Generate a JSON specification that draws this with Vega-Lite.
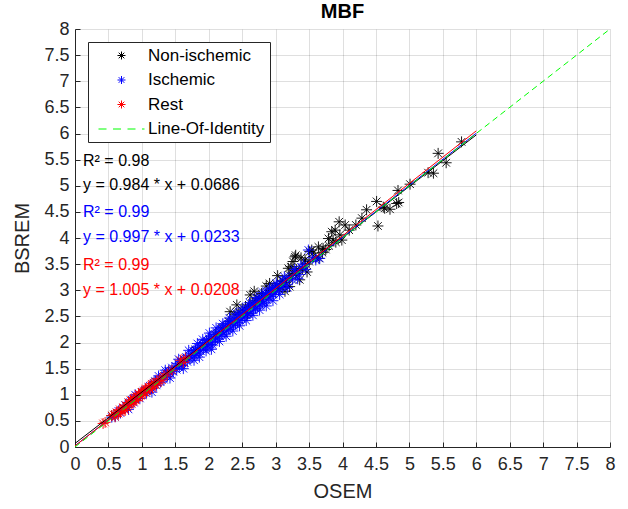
{
  "$schema": "https://vega.github.io/schema/vega-lite/v6.json",
  "width": 535,
  "height": 418,
  "autosize": {"type": "none"},
  "padding": {"left": 75, "top": 29, "right": 18, "bottom": 62},
  "background": "white",
  "title": {"text": "MBF", "fontSize": 20, "fontWeight": "bold", "font": "Liberation Sans", "color": "#000000", "offset": -2},
  "config": {
    "view": {"stroke": null},
    "font": "Liberation Sans",
    "axis": {
      "grid": true, "gridColor": "#262626", "gridOpacity": 0.15,
      "domainColor": "#262626", "tickColor": "#262626", "labelColor": "#262626", "titleColor": "#262626",
      "labelFontSize": 18, "titleFontSize": 20, "titleFontWeight": "normal",
      "labelFont": "Liberation Sans", "titleFont": "Liberation Sans", "tickSize": -5
    }
  },
  "datasets": {
    "pts": [
      {"g":"Non-ischemic","x":0.55,"y":0.6},{"g":"Non-ischemic","x":0.8,"y":0.85},{"g":"Non-ischemic","x":1.0,"y":1.05},{"g":"Non-ischemic","x":1.2,"y":1.25},{"g":"Non-ischemic","x":1.4,"y":1.45},{"g":"Non-ischemic","x":1.6,"y":1.62},{"g":"Non-ischemic","x":1.8,"y":1.85},{"g":"Non-ischemic","x":2.0,"y":2.05},{"g":"Non-ischemic","x":2.1,"y":2.15},{"g":"Non-ischemic","x":2.2,"y":2.28},{"g":"Non-ischemic","x":2.3,"y":2.4},{"g":"Non-ischemic","x":2.32,"y":2.59},{"g":"Non-ischemic","x":2.39,"y":2.53},{"g":"Non-ischemic","x":2.45,"y":2.58},{"g":"Non-ischemic","x":2.5,"y":2.62},{"g":"Non-ischemic","x":2.55,"y":2.68},{"g":"Non-ischemic","x":2.6,"y":2.72},{"g":"Non-ischemic","x":2.62,"y":2.91},{"g":"Non-ischemic","x":2.65,"y":2.75},{"g":"Non-ischemic","x":2.7,"y":2.8},{"g":"Non-ischemic","x":2.72,"y":2.85},{"g":"Non-ischemic","x":2.75,"y":2.83},{"g":"Non-ischemic","x":2.79,"y":2.94},{"g":"Non-ischemic","x":2.8,"y":2.88},{"g":"Non-ischemic","x":2.85,"y":2.92},{"g":"Non-ischemic","x":2.9,"y":2.95},{"g":"Non-ischemic","x":2.91,"y":3.13},{"g":"Non-ischemic","x":2.95,"y":2.98},{"g":"Non-ischemic","x":2.96,"y":3.0},{"g":"Non-ischemic","x":3.0,"y":3.05},{"g":"Non-ischemic","x":3.02,"y":3.1},{"g":"Non-ischemic","x":3.05,"y":3.02},{"g":"Non-ischemic","x":3.08,"y":3.12},{"g":"Non-ischemic","x":3.11,"y":3.1},{"g":"Non-ischemic","x":3.1,"y":3.18},{"g":"Non-ischemic","x":3.15,"y":3.15},{"g":"Non-ischemic","x":3.19,"y":3.42},{"g":"Non-ischemic","x":3.2,"y":3.22},{"g":"Non-ischemic","x":3.21,"y":3.29},{"g":"Non-ischemic","x":3.21,"y":3.07},{"g":"Non-ischemic","x":3.23,"y":3.45},{"g":"Non-ischemic","x":3.25,"y":3.28},{"g":"Non-ischemic","x":3.29,"y":3.64},{"g":"Non-ischemic","x":3.3,"y":3.67},{"g":"Non-ischemic","x":3.31,"y":3.39},{"g":"Non-ischemic","x":3.3,"y":3.32},{"g":"Non-ischemic","x":3.35,"y":3.38},{"g":"Non-ischemic","x":3.36,"y":3.2},{"g":"Non-ischemic","x":3.4,"y":3.42},{"g":"Non-ischemic","x":3.44,"y":3.58},{"g":"Non-ischemic","x":3.45,"y":3.5},{"g":"Non-ischemic","x":3.5,"y":3.55},{"g":"Non-ischemic","x":3.51,"y":3.74},{"g":"Non-ischemic","x":3.54,"y":3.77},{"g":"Non-ischemic","x":3.56,"y":3.71},{"g":"Non-ischemic","x":3.6,"y":3.62},{"g":"Non-ischemic","x":3.64,"y":3.83},{"g":"Non-ischemic","x":3.65,"y":3.61},{"g":"Non-ischemic","x":3.7,"y":3.72},{"g":"Non-ischemic","x":3.71,"y":3.8},{"g":"Non-ischemic","x":3.75,"y":3.78},{"g":"Non-ischemic","x":3.79,"y":3.99},{"g":"Non-ischemic","x":3.8,"y":3.85},{"g":"Non-ischemic","x":3.84,"y":4.12},{"g":"Non-ischemic","x":3.86,"y":3.96},{"g":"Non-ischemic","x":3.89,"y":4.15},{"g":"Non-ischemic","x":3.9,"y":3.92},{"g":"Non-ischemic","x":3.95,"y":4.31},{"g":"Non-ischemic","x":3.96,"y":4.06},{"g":"Non-ischemic","x":3.99,"y":3.96},{"g":"Non-ischemic","x":4.04,"y":4.25},{"g":"Non-ischemic","x":4.1,"y":4.15},{"g":"Non-ischemic","x":4.2,"y":4.25},{"g":"Non-ischemic","x":4.29,"y":4.38},{"g":"Non-ischemic","x":4.36,"y":4.54},{"g":"Non-ischemic","x":4.51,"y":4.7},{"g":"Non-ischemic","x":4.53,"y":4.23},{"g":"Non-ischemic","x":4.61,"y":4.59},{"g":"Non-ischemic","x":4.63,"y":4.57},{"g":"Non-ischemic","x":4.71,"y":4.55},{"g":"Non-ischemic","x":4.81,"y":4.66},{"g":"Non-ischemic","x":4.83,"y":4.91},{"g":"Non-ischemic","x":4.84,"y":4.68},{"g":"Non-ischemic","x":5.01,"y":5.03},{"g":"Non-ischemic","x":5.28,"y":5.25},{"g":"Non-ischemic","x":5.36,"y":5.24},{"g":"Non-ischemic","x":5.43,"y":5.62},{"g":"Non-ischemic","x":5.55,"y":5.44},{"g":"Non-ischemic","x":5.78,"y":5.84},
      {"g":"Non-ischemic","x":2.42,"y":2.72},{"g":"Non-ischemic","x":2.58,"y":2.55},{"g":"Non-ischemic","x":2.68,"y":2.98},{"g":"Non-ischemic","x":2.86,"y":3.08},{"g":"Non-ischemic","x":3.03,"y":3.28},{"g":"Non-ischemic","x":3.14,"y":2.98},{"g":"Non-ischemic","x":3.26,"y":3.55},{"g":"Non-ischemic","x":3.38,"y":3.62},{"g":"Non-ischemic","x":3.47,"y":3.35},
      {"g":"Ischemic","x":0.55,"y":0.57},{"g":"Ischemic","x":0.6,"y":0.58},{"g":"Ischemic","x":0.63,"y":0.66},{"g":"Ischemic","x":0.65,"y":0.69},{"g":"Ischemic","x":0.68,"y":0.65},{"g":"Ischemic","x":0.72,"y":0.75},{"g":"Ischemic","x":0.75,"y":0.8},{"g":"Ischemic","x":0.78,"y":0.76},{"g":"Ischemic","x":0.8,"y":0.72},{"g":"Ischemic","x":0.82,"y":0.86},{"g":"Ischemic","x":0.85,"y":0.9},{"g":"Ischemic","x":0.88,"y":0.85},{"g":"Ischemic","x":0.9,"y":1.0},{"g":"Ischemic","x":0.92,"y":0.97},{"g":"Ischemic","x":0.95,"y":0.99},{"g":"Ischemic","x":0.97,"y":0.93},{"g":"Ischemic","x":1.02,"y":1.06},{"g":"Ischemic","x":1.05,"y":1.09},{"g":"Ischemic","x":1.07,"y":1.03},{"g":"Ischemic","x":1.1,"y":1.14},{"g":"Ischemic","x":1.12,"y":1.17},{"g":"Ischemic","x":1.15,"y":1.05},{"g":"Ischemic","x":1.15,"y":1.12},{"g":"Ischemic","x":1.18,"y":1.23},{"g":"Ischemic","x":1.2,"y":1.26},{"g":"Ischemic","x":1.22,"y":1.18},{"g":"Ischemic","x":1.25,"y":1.3},{"g":"Ischemic","x":1.25,"y":1.36},{"g":"Ischemic","x":1.28,"y":1.24},{"g":"Ischemic","x":1.3,"y":1.36},{"g":"Ischemic","x":1.33,"y":1.29},{"g":"Ischemic","x":1.35,"y":1.47},{"g":"Ischemic","x":1.36,"y":1.42},{"g":"Ischemic","x":1.38,"y":1.35},{"g":"Ischemic","x":1.4,"y":1.46},{"g":"Ischemic","x":1.42,"y":1.32},{"g":"Ischemic","x":1.43,"y":1.4},{"g":"Ischemic","x":1.45,"y":1.52},{"g":"Ischemic","x":1.47,"y":1.44},{"g":"Ischemic","x":1.5,"y":1.55},{"g":"Ischemic","x":1.52,"y":1.48},{"g":"Ischemic","x":1.54,"y":1.6},{"g":"Ischemic","x":1.55,"y":1.68},{"g":"Ischemic","x":1.56,"y":1.53},{"g":"Ischemic","x":1.58,"y":1.64},{"g":"Ischemic","x":1.6,"y":1.56},{"g":"Ischemic","x":1.62,"y":1.68},{"g":"Ischemic","x":1.62,"y":1.5},{"g":"Ischemic","x":1.64,"y":1.61},{"g":"Ischemic","x":1.66,"y":1.72},{"g":"Ischemic","x":1.68,"y":1.63},{"g":"Ischemic","x":1.7,"y":1.76},{"g":"Ischemic","x":1.7,"y":1.85},{"g":"Ischemic","x":1.72,"y":1.69},{"g":"Ischemic","x":1.74,"y":1.8},{"g":"Ischemic","x":1.75,"y":1.71},{"g":"Ischemic","x":1.77,"y":1.84},{"g":"Ischemic","x":1.78,"y":1.66},{"g":"Ischemic","x":1.79,"y":1.75},{"g":"Ischemic","x":1.8,"y":1.87},{"g":"Ischemic","x":1.82,"y":1.78},{"g":"Ischemic","x":1.83,"y":1.98},{"g":"Ischemic","x":1.84,"y":1.9},{"g":"Ischemic","x":1.85,"y":1.8},{"g":"Ischemic","x":1.86,"y":1.72},{"g":"Ischemic","x":1.87,"y":1.94},{"g":"Ischemic","x":1.88,"y":1.84},{"g":"Ischemic","x":1.9,"y":1.97},{"g":"Ischemic","x":1.91,"y":2.06},{"g":"Ischemic","x":1.92,"y":1.87},{"g":"Ischemic","x":1.93,"y":2.0},{"g":"Ischemic","x":1.95,"y":1.91},{"g":"Ischemic","x":1.96,"y":1.84},{"g":"Ischemic","x":1.97,"y":2.04},{"g":"Ischemic","x":1.98,"y":1.93},{"g":"Ischemic","x":2.0,"y":2.08},{"g":"Ischemic","x":2.01,"y":2.18},{"g":"Ischemic","x":2.02,"y":1.96},{"g":"Ischemic","x":2.03,"y":2.12},{"g":"Ischemic","x":2.05,"y":2.0},{"g":"Ischemic","x":2.04,"y":1.87},{"g":"Ischemic","x":2.06,"y":1.95},{"g":"Ischemic","x":2.08,"y":2.15},{"g":"Ischemic","x":2.1,"y":2.05},{"g":"Ischemic","x":2.11,"y":2.28},{"g":"Ischemic","x":2.12,"y":2.2},{"g":"Ischemic","x":2.13,"y":2.08},{"g":"Ischemic","x":2.15,"y":2.22},{"g":"Ischemic","x":2.16,"y":2.02},{"g":"Ischemic","x":2.17,"y":2.12},{"g":"Ischemic","x":2.18,"y":2.26},{"g":"Ischemic","x":2.2,"y":2.15},{"g":"Ischemic","x":2.21,"y":2.36},{"g":"Ischemic","x":2.22,"y":2.3},{"g":"Ischemic","x":2.23,"y":2.18},{"g":"Ischemic","x":2.25,"y":2.33},{"g":"Ischemic","x":2.26,"y":2.12},{"g":"Ischemic","x":2.27,"y":2.22},{"g":"Ischemic","x":2.28,"y":2.36},{"g":"Ischemic","x":2.3,"y":2.25},{"g":"Ischemic","x":2.31,"y":2.47},{"g":"Ischemic","x":2.32,"y":2.4},{"g":"Ischemic","x":2.33,"y":2.28},{"g":"Ischemic","x":2.35,"y":2.42},{"g":"Ischemic","x":2.36,"y":2.22},{"g":"Ischemic","x":2.37,"y":2.32},{"g":"Ischemic","x":2.38,"y":2.45},{"g":"Ischemic","x":2.4,"y":2.35},{"g":"Ischemic","x":2.41,"y":2.56},{"g":"Ischemic","x":2.42,"y":2.48},{"g":"Ischemic","x":2.43,"y":2.38},{"g":"Ischemic","x":2.45,"y":2.52},{"g":"Ischemic","x":2.46,"y":2.32},{"g":"Ischemic","x":2.47,"y":2.42},{"g":"Ischemic","x":2.48,"y":2.55},{"g":"Ischemic","x":2.5,"y":2.45},{"g":"Ischemic","x":2.51,"y":2.66},{"g":"Ischemic","x":2.52,"y":2.58},{"g":"Ischemic","x":2.53,"y":2.48},{"g":"Ischemic","x":2.55,"y":2.62},{"g":"Ischemic","x":2.56,"y":2.42},{"g":"Ischemic","x":2.57,"y":2.52},{"g":"Ischemic","x":2.58,"y":2.65},{"g":"Ischemic","x":2.6,"y":2.55},{"g":"Ischemic","x":2.61,"y":2.76},{"g":"Ischemic","x":2.62,"y":2.7},{"g":"Ischemic","x":2.63,"y":2.58},{"g":"Ischemic","x":2.65,"y":2.72},{"g":"Ischemic","x":2.66,"y":2.52},{"g":"Ischemic","x":2.67,"y":2.62},{"g":"Ischemic","x":2.68,"y":2.75},{"g":"Ischemic","x":2.7,"y":2.65},{"g":"Ischemic","x":2.71,"y":2.86},{"g":"Ischemic","x":2.72,"y":2.78},{"g":"Ischemic","x":2.73,"y":2.68},{"g":"Ischemic","x":2.75,"y":2.82},{"g":"Ischemic","x":2.76,"y":2.62},{"g":"Ischemic","x":2.77,"y":2.72},{"g":"Ischemic","x":2.78,"y":2.85},{"g":"Ischemic","x":2.8,"y":2.75},{"g":"Ischemic","x":2.81,"y":2.96},{"g":"Ischemic","x":2.82,"y":2.88},{"g":"Ischemic","x":2.83,"y":2.77},{"g":"Ischemic","x":2.85,"y":2.92},{"g":"Ischemic","x":2.86,"y":2.7},{"g":"Ischemic","x":2.87,"y":2.82},{"g":"Ischemic","x":2.88,"y":2.95},{"g":"Ischemic","x":2.9,"y":2.85},{"g":"Ischemic","x":2.91,"y":3.04},{"g":"Ischemic","x":2.92,"y":2.98},{"g":"Ischemic","x":2.93,"y":2.88},{"g":"Ischemic","x":2.95,"y":3.02},{"g":"Ischemic","x":2.96,"y":2.8},{"g":"Ischemic","x":2.97,"y":2.92},{"g":"Ischemic","x":2.98,"y":3.05},{"g":"Ischemic","x":3.0,"y":2.95},{"g":"Ischemic","x":3.01,"y":3.14},{"g":"Ischemic","x":3.02,"y":3.08},{"g":"Ischemic","x":3.05,"y":3.0},{"g":"Ischemic","x":3.06,"y":2.92},{"g":"Ischemic","x":3.08,"y":3.12},{"g":"Ischemic","x":3.1,"y":3.05},{"g":"Ischemic","x":3.12,"y":3.18},{"g":"Ischemic","x":3.13,"y":3.26},{"g":"Ischemic","x":3.15,"y":3.1},{"g":"Ischemic","x":3.18,"y":3.05},{"g":"Ischemic","x":3.2,"y":3.25},{"g":"Ischemic","x":3.25,"y":3.2},{"g":"Ischemic","x":3.28,"y":3.4},{"g":"Ischemic","x":3.3,"y":3.35},{"g":"Ischemic","x":3.33,"y":3.22},{"g":"Ischemic","x":3.35,"y":3.3},{"g":"Ischemic","x":3.38,"y":3.45},{"g":"Ischemic","x":3.42,"y":3.5},{"g":"Ischemic","x":3.45,"y":3.4},{"g":"Ischemic","x":3.49,"y":3.77},{"g":"Ischemic","x":3.55,"y":3.62},{"g":"Ischemic","x":3.6,"y":3.58},{"g":"Ischemic","x":3.66,"y":3.61},
      {"g":"Rest","x":0.42,"y":0.45},{"g":"Rest","x":0.45,"y":0.47},{"g":"Rest","x":0.55,"y":0.6},{"g":"Rest","x":0.58,"y":0.62},{"g":"Rest","x":0.6,"y":0.58},{"g":"Rest","x":0.62,"y":0.66},{"g":"Rest","x":0.65,"y":0.64},{"g":"Rest","x":0.67,"y":0.72},{"g":"Rest","x":0.68,"y":0.67},{"g":"Rest","x":0.7,"y":0.7},{"g":"Rest","x":0.72,"y":0.76},{"g":"Rest","x":0.74,"y":0.73},{"g":"Rest","x":0.75,"y":0.7},{"g":"Rest","x":0.76,"y":0.8},{"g":"Rest","x":0.78,"y":0.77},{"g":"Rest","x":0.8,"y":0.85},{"g":"Rest","x":0.82,"y":0.81},{"g":"Rest","x":0.83,"y":0.9},{"g":"Rest","x":0.84,"y":0.88},{"g":"Rest","x":0.85,"y":0.83},{"g":"Rest","x":0.87,"y":0.92},{"g":"Rest","x":0.88,"y":0.87},{"g":"Rest","x":0.9,"y":0.95},{"g":"Rest","x":0.91,"y":0.89},{"g":"Rest","x":0.93,"y":0.97},{"g":"Rest","x":0.95,"y":0.94},{"g":"Rest","x":0.95,"y":1.02},{"g":"Rest","x":0.96,"y":1.01},{"g":"Rest","x":0.98,"y":0.98},{"g":"Rest","x":1.0,"y":1.05},{"g":"Rest","x":1.01,"y":0.99},{"g":"Rest","x":1.03,"y":1.08},{"g":"Rest","x":1.05,"y":1.04},{"g":"Rest","x":1.05,"y":1.1},{"g":"Rest","x":1.06,"y":1.12},{"g":"Rest","x":1.08,"y":1.07},{"g":"Rest","x":1.1,"y":1.15},{"g":"Rest","x":1.12,"y":1.11},{"g":"Rest","x":1.14,"y":1.18},{"g":"Rest","x":1.15,"y":1.21},{"g":"Rest","x":1.16,"y":1.13},{"g":"Rest","x":1.18,"y":1.22},{"g":"Rest","x":1.2,"y":1.19},{"g":"Rest","x":1.22,"y":1.25},{"g":"Rest","x":1.24,"y":1.22},{"g":"Rest","x":1.27,"y":1.31},{"g":"Rest","x":1.3,"y":1.28},{"g":"Rest","x":1.33,"y":1.36},{"g":"Rest","x":1.38,"y":1.4},{"g":"Rest","x":1.45,"y":1.47},{"g":"Rest","x":1.58,"y":1.66},{"g":"Rest","x":1.62,"y":1.62},{"g":"Rest","x":1.65,"y":1.7}
    ],
    "fits": [
      {"g":"Non-ischemic","x":0,"y":0.0686},{"g":"Non-ischemic","x":6,"y":5.9726},
      {"g":"Ischemic","x":0,"y":0.0233},{"g":"Ischemic","x":6,"y":6.0053},
      {"g":"Rest","x":0,"y":0.0208},{"g":"Rest","x":6,"y":6.0508}
    ],
    "ident": [
      {"g":"Line-Of-Identity","x":0,"y":0},{"g":"Line-Of-Identity","x":8,"y":8}
    ],
    "ann": [
      {"g":"Non-ischemic","t":"R² = 0.98","x":0.12,"y":5.47},
      {"g":"Non-ischemic","t":"y = 0.984 * x + 0.0686","x":0.12,"y":5.01},
      {"g":"Ischemic","t":"R² = 0.99","x":0.12,"y":4.5},
      {"g":"Ischemic","t":"y = 0.997 * x + 0.0233","x":0.12,"y":4.02},
      {"g":"Rest","t":"R² = 0.99","x":0.12,"y":3.48},
      {"g":"Rest","t":"y = 1.005 * x + 0.0208","x":0.12,"y":3.0}
    ]
  },
  "encoding": {
    "x": {"field": "x", "type": "quantitative", "title": "OSEM",
      "scale": {"domain": [0, 8], "nice": false, "zero": false},
      "axis": {"values": [0,0.5,1,1.5,2,2.5,3,3.5,4,4.5,5,5.5,6,6.5,7,7.5,8], "format": "~g", "labelPadding": 13, "titlePadding": 8, "labelFlush": false}},
    "y": {"field": "y", "type": "quantitative", "title": "BSREM",
      "scale": {"domain": [0, 8], "nice": false, "zero": false},
      "axis": {"values": [0,0.5,1,1.5,2,2.5,3,3.5,4,4.5,5,5.5,6,6.5,7,7.5,8], "format": "~g", "labelPadding": 11, "titlePadding": 11, "labelFlush": false}}
  },
  "layer": [
    {
      "data": {"name": "pts"},
      "mark": {"type": "point", "filled": false, "size": 120, "strokeWidth": 0.9, "opacity": 1},
      "encoding": {
        "color": {"field": "g", "type": "nominal",
          "scale": {"domain": ["Non-ischemic","Ischemic","Rest","Line-Of-Identity"], "range": ["#000000","#0000ff","#ff0000","#00ff00"]},
          "legend": {"title": null, "orient": "none", "legendX": 13, "legendY": 13, "strokeColor": "#262626", "fillColor": "white", "padding": 5, "labelFontSize": 17, "labelFont": "Liberation Sans", "labelColor": "#000000", "symbolSize": 64, "symbolStrokeWidth": 1, "symbolOffset": 20, "labelOffset": 18, "rowPadding": 6.5, "cornerRadius": 0}},
        "shape": {"field": "g", "type": "nominal",
          "scale": {"domain": ["Non-ischemic","Ischemic","Rest","Line-Of-Identity"], "range": ["M-1,0L1,0M0,-1L0,1M-0.7,-0.7L0.7,0.7M-0.7,0.7L0.7,-0.7","M-1,0L1,0M0,-1L0,1M-0.7,-0.7L0.7,0.7M-0.7,0.7L0.7,-0.7","M-1,0L1,0M0,-1L0,1M-0.7,-0.7L0.7,0.7M-0.7,0.7L0.7,-0.7","M-5.75,0L-3.75,0M-2.12,0L-0.12,0M1.5,0L3.5,0M5.12,0L5.75,0"]},
          "legend": {"title": null, "orient": "none", "legendX": 13, "legendY": 13, "strokeColor": "#262626", "fillColor": "white", "padding": 5, "labelFontSize": 17, "labelFont": "Liberation Sans", "labelColor": "#000000", "symbolSize": 64, "symbolStrokeWidth": 1, "symbolOffset": 20, "labelOffset": 18, "rowPadding": 6.5, "cornerRadius": 0}}
      }
    },
    {
      "data": {"name": "fits"},
      "mark": {"type": "line", "strokeWidth": 1},
      "encoding": {
        "color": {"field": "g", "type": "nominal", "legend": null},
        "detail": {"field": "g"}
      }
    },
    {
      "data": {"name": "ident"},
      "mark": {"type": "line", "strokeWidth": 1, "strokeDash": [6, 4]},
      "encoding": {
        "color": {"field": "g", "type": "nominal", "legend": null}
      }
    },
    {
      "data": {"name": "ann"},
      "mark": {"type": "text", "align": "left", "baseline": "middle", "fontSize": 16, "font": "Liberation Sans"},
      "encoding": {
        "text": {"field": "t"},
        "color": {"field": "g", "type": "nominal", "legend": null}
      }
    }
  ]
}
